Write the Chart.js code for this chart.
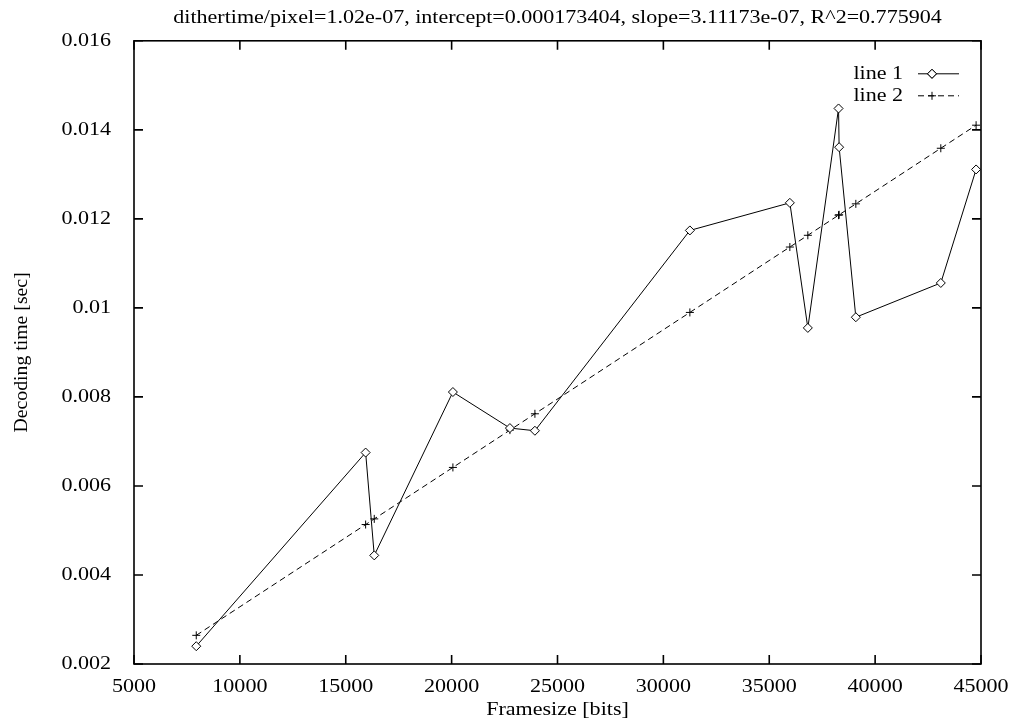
<!DOCTYPE html>
<html>
<head>
<meta charset="utf-8">
<script src="https://cdn.jsdelivr.net/npm/chart.js@4/dist/chart.umd.min.js"></script>
<style>
  body { margin: 0; background: #fff; }
  canvas { display: block; }
</style>
</head>
<body>
<canvas id="grafico" width="1015" height="721"></canvas>
<script>
// framesize [bits] of each frame
const framesizes = [7940, 15939, 16346, 20060, 22753, 23933, 31251, 35973, 36822, 38272, 38300, 39089, 43102, 44769];
// line 1: measured decoding time [sec]
const line1 = [0.00240, 0.00675, 0.00444, 0.00811, 0.00730, 0.00724, 0.01174, 0.01236, 0.00955, 0.01448, 0.01361, 0.00979, 0.01056, 0.01311];
// line 2: fitted decoding time [sec]
const line2 = [0.002644, 0.005133, 0.005260, 0.006416, 0.007254, 0.007621, 0.009898, 0.011367, 0.011631, 0.012083, 0.012091, 0.012337, 0.013586, 0.014104];

const xTicks = [5000, 10000, 15000, 20000, 25000, 30000, 35000, 40000, 45000];
const xTickLabels = ["5000", "10000", "15000", "20000", "25000", "30000", "35000", "40000", "45000"];
const yTicks = [0.002, 0.004, 0.006, 0.008, 0.01, 0.012, 0.014, 0.016];
const yTickLabels = ["0.002", "0.004", "0.006", "0.008", "0.01", "0.012", "0.014", "0.016"];

const titulo = "dithertime/pixel=1.02e-07, intercept=0.000173404, slope=3.11173e-07, R^2=0.775904";
const fonte = 'Liberation Serif';
const tamanho = 19;

// the original font is a bit wider than Times: stretch text horizontally
const largo = {
    id: 'largo',
    beforeInit(chart) {
        const ctx = chart.ctx;
        const orig = ctx.fillText.bind(ctx);
        ctx.fillText = function (t, x, y) {
            const m = ctx.getTransform();
            const k = Math.abs(m.b) > 0.01 ? 1.04 : 1.16;
            ctx.save();
            ctx.translate(x, y);
            ctx.scale(k, 1);
            orig(t, 0, 0);
            ctx.restore();
        };
    }
};

// gnuplot style border with inward ticks on all four sides + legend inside
const moldura = {
    id: 'moldura',
    afterDatasetsDraw(chart) {
        const ctx = chart.ctx;
        const a = chart.chartArea;
        const sx = chart.scales.x, sy = chart.scales.y;
        ctx.save();
        ctx.strokeStyle = '#000';
        ctx.lineWidth = 1.6;
        ctx.strokeRect(a.left, a.top, a.right - a.left, a.bottom - a.top);
        ctx.beginPath();
        xTicks.forEach(v => {
            const px = sx.getPixelForValue(v);
            ctx.moveTo(px, a.bottom); ctx.lineTo(px, a.bottom - 9);
            ctx.moveTo(px, a.top); ctx.lineTo(px, a.top + 9);
        });
        yTicks.forEach(v => {
            const py = sy.getPixelForValue(v);
            ctx.moveTo(a.left, py); ctx.lineTo(a.left + 9, py);
            ctx.moveTo(a.right, py); ctx.lineTo(a.right - 9, py);
        });
        ctx.stroke();

        // legenda
        ctx.font = tamanho + 'px ' + fonte;
        ctx.fillStyle = '#000';
        ctx.textAlign = 'right';
        ctx.textBaseline = 'middle';
        const textoX = a.right - 78;
        const ini = a.right - 63, fim = a.right - 22, marca = a.right - 49;
        chart.data.datasets.forEach((ds, i) => {
            const y = a.top + 33 + i * 22;
            ctx.fillText(ds.label, textoX, y);
            ctx.lineWidth = 1;
            ctx.setLineDash(ds.borderDash || []);
            ctx.beginPath();
            ctx.moveTo(ini, y); ctx.lineTo(fim, y);
            ctx.stroke();
            ctx.setLineDash([]);
            Chart.helpers.drawPoint(ctx, {
                pointStyle: ds.pointStyle, radius: ds.pointRadius, rotation: 0,
                borderWidth: 1
            }, marca, y);
            if (ds.pointStyle === 'rectRot') {
                ctx.fillStyle = '#fff';
                ctx.fill();
                ctx.stroke();
                ctx.fillStyle = '#000';
            }
        });
        ctx.restore();
    }
};

new Chart(document.getElementById('grafico').getContext('2d'), {
    type: 'line',
    data: {
        labels: framesizes,
        datasets: [
            {
                label: 'line 1',
                data: framesizes.map((x, i) => ({ x: x, y: line1[i] })),
                borderColor: '#000',
                borderWidth: 1,
                pointStyle: 'rectRot',
                pointRadius: 4.5,
                pointBackgroundColor: '#fff',
                pointBorderColor: '#000',
                pointBorderWidth: 1,
                tension: 0
            },
            {
                label: 'line 2',
                data: framesizes.map((x, i) => ({ x: x, y: line2[i] })),
                borderColor: '#000',
                borderWidth: 1,
                borderDash: [6, 4],
                pointStyle: 'cross',
                pointRadius: 4,
                pointBorderColor: '#000',
                pointBorderWidth: 1,
                tension: 0
            }
        ]
    },
    plugins: [largo, moldura],
    options: {
        responsive: false,
        devicePixelRatio: 1,
        animation: false,
        events: [],
        layout: {
            padding: { left: 0, right: 34, top: 0, bottom: 0 }
        },
        scales: {
            x: {
                type: 'linear',
                min: 5000,
                max: 45000,
                afterFit: s => { s.height = 57; },
                afterBuildTicks: s => { s.ticks = xTicks.map(v => ({ value: v })); },
                grid: { display: false },
                border: { display: false },
                ticks: {
                    color: '#000',
                    padding: 4,
                    maxRotation: 0,
                    autoSkip: false,
                    font: { family: fonte, size: tamanho },
                    callback: (v, i) => xTickLabels[i]
                },
                title: {
                    display: true,
                    text: 'Framesize [bits]',
                    color: '#000',
                    padding: { top: 0, bottom: 0 },
                    font: { family: fonte, size: tamanho }
                }
            },
            y: {
                type: 'linear',
                min: 0.002,
                max: 0.016,
                afterFit: s => { s.width = 134; },
                afterBuildTicks: s => { s.ticks = yTicks.map(v => ({ value: v })); },
                grid: { display: false },
                border: { display: false },
                ticks: {
                    color: '#000',
                    padding: 15,
                    autoSkip: false,
                    font: { family: fonte, size: tamanho },
                    callback: (v, i) => yTickLabels[i]
                },
                title: {
                    display: true,
                    text: 'Decoding time [sec]',
                    color: '#000',
                    padding: { top: 11, bottom: 11 },
                    font: { family: fonte, size: tamanho }
                }
            }
        },
        plugins: {
            legend: { display: false },
            tooltip: { enabled: false },
            title: {
                display: true,
                text: titulo,
                fullSize: false,
                color: '#000',
                padding: { top: 7, bottom: 11 },
                font: { family: fonte, size: tamanho, weight: 'normal' }
            }
        }
    }
});
</script>
</body>
</html>
